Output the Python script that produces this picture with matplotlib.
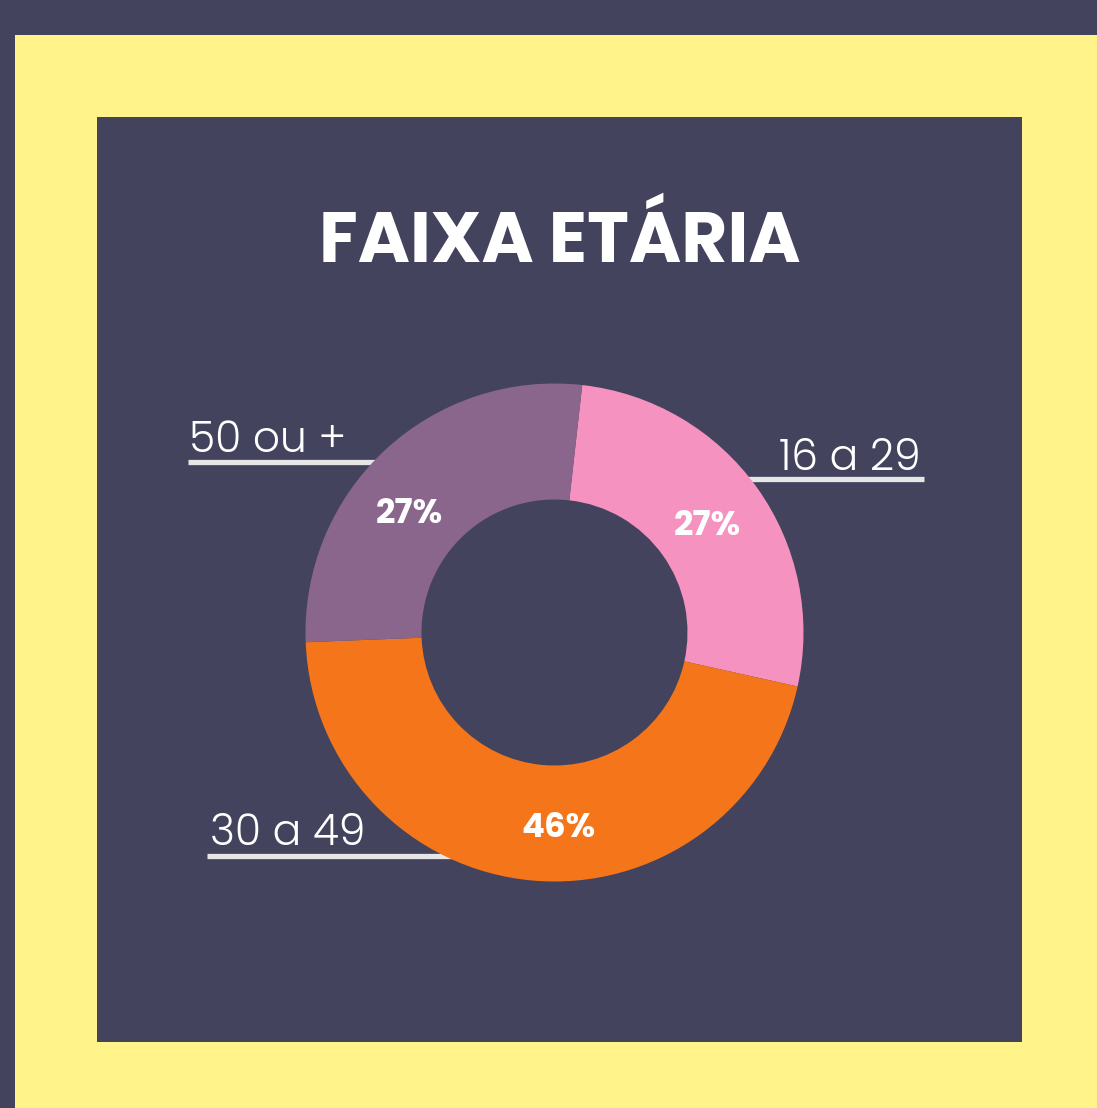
import matplotlib
matplotlib.use("Agg")
import matplotlib.pyplot as plt
from matplotlib.patches import Rectangle
import numpy as np

# ---- data ----
categories = ["16 a 29", "30 a 49", "50 ou +"]
shares = [26.7, 45.9, 27.4]
pct_labels = ["27%", "46%", "27%"]
title = "FAIXA ETÁRIA"

# ---- style ----
BG = "#43435D"
YELLOW = "#FFF38A"
LINE = "#E6E6E6"
colors = ["#F692BF", "#F5761A", "#8B668C"]

W, H = 1097, 1108
fig = plt.figure(figsize=(W / 100, H / 100), dpi=100)
fig.patch.set_facecolor(BG)
ax = fig.add_axes([0, 0, 1, 1])


def Y(y):
    return H - y


FONT = ["Poppins", "DejaVu Sans"]

# frame + panel
ax.add_patch(Rectangle((15, Y(1120)), W, 1120 - 35, facecolor=YELLOW, edgecolor="none", zorder=0))
ax.add_patch(Rectangle((97, Y(1042)), 1022 - 97, 1042 - 117, facecolor=BG, edgecolor="none", zorder=0.5))

# donut
cx, cy = 554.5, Y(632.5)
R_out, R_in = 249, 133
wedges, _ = ax.pie(shares, colors=colors, startangle=83.6, counterclock=False,
                   radius=R_out, center=(cx, cy),
                   wedgeprops=dict(width=R_out - R_in, linewidth=0))
for w in wedges:
    w.set_zorder(3)

# percentage labels (angle, radius in px)
pct_pos = [(35.8, 188), (-88.7, 192), (140.1, 189.5)]
for lab, (ang, r) in zip(pct_labels, pct_pos):
    a = np.deg2rad(ang)
    ax.text(cx + r * np.cos(a), cy + r * np.sin(a), lab, ha="center", va="center_baseline",
            fontsize=24.5, fontweight="bold", color="white", family=FONT, zorder=4)

# outer labels with underlines
outer = {
    "16 a 29": dict(tx=921, ty=470, ha="right", lx=(740, 924), ly=479),
    "30 a 49": dict(tx=210, ty=845, ha="left", lx=(207, 470), ly=856),
    "50 ou +": dict(tx=189, ty=452, ha="left", lx=(188, 400), ly=462),
}
for cat in categories:
    o = outer[cat]
    ax.plot(o["lx"], [Y(o["ly"])] * 2, color=LINE, lw=3.8, solid_capstyle="butt", zorder=2)
    ax.text(o["tx"], Y(o["ty"]), cat, ha=o["ha"], va="baseline", fontsize=30.5,
            color="white", family=FONT, fontweight=300, zorder=4)

# title
ax.text(560, Y(262), title, ha="center", va="baseline", fontsize=51, fontweight="bold",
        color="white", family=FONT, zorder=4)

ax.set_xlim(0, W)
ax.set_ylim(0, H)
ax.set_aspect("auto")
ax.axis("off")

fig.savefig("out.png", dpi=100, facecolor=BG)
